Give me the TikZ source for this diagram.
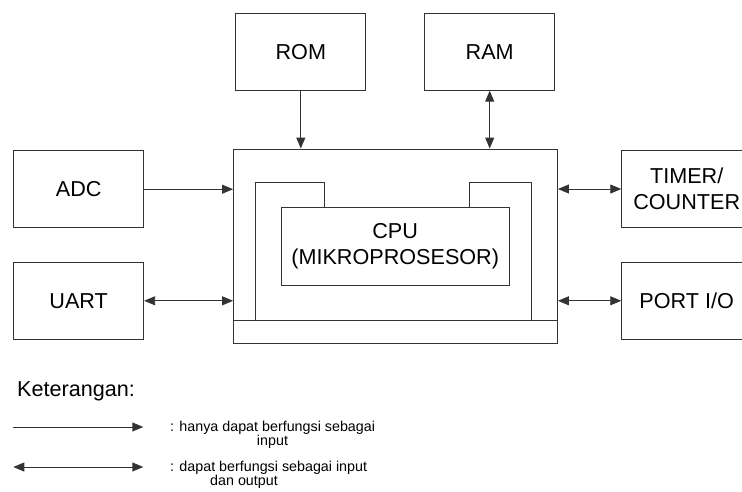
\documentclass[tikz,border=0pt]{standalone}
\usepackage{fontspec}
\setmainfont{Liberation Sans}
\usetikzlibrary{arrows.meta}
\begin{document}
\begin{tikzpicture}[x=1pt,y=-1pt,
  ln/.style={draw=black!80,line width=0.9pt},
  blk/.style={ln,rectangle,inner sep=0pt,minimum width=130pt,minimum height=77pt,
    align=center,font=\fontsize{21.6}{26}\selectfont},
  big/.style={font=\fontsize{21.6}{26}\selectfont},
  small/.style={font=\fontsize{14.3}{15}\selectfont,inner sep=0pt},
  one/.style={ln,-{Triangle[length=11pt,width=9pt]}},
  two/.style={ln,{Triangle[length=11pt,width=9pt]}-{Triangle[length=11pt,width=9pt]}}]
\useasboundingbox (0,0) rectangle (742,491);
\clip (0,0) rectangle (742,491);
% peripheral blocks
\node[blk] (rom) at (300.8,51.7) {ROM};
\node[blk] (ram) at (489.7,51.7) {RAM};
\node[blk] (adc) at (78.7,189.2) {ADC};
\node[blk] (uart) at (78.7,300.8) {UART};
\node[blk] (timer) at (686.7,189) {TIMER/\\COUNTER};
\node[blk] (port) at (686.7,300.8) {PORT I/O};
% microcontroller body
\node[ln,rectangle,inner sep=0pt,minimum width=324pt,minimum height=194pt] (mcu) at (395.5,246) {};
\node[ln,rectangle,inner sep=0pt,minimum width=324pt,minimum height=23pt] (bus) at (395.5,331.5) {};
\draw[ln] (255.7,320) -- (255.7,182.7) -- (324.3,182.7) -- (324.3,207.3);
\draw[ln] (469,207.3) -- (469,182.7) -- (531.3,182.7) -- (531.3,320);
\node[ln,rectangle,inner sep=0pt,minimum width=227.7pt,minimum height=77.7pt,align=center,big] (cpu) at (395.2,246.2) {CPU\\(MIKROPROSESOR)};
% connectors
\draw[one] (rom.south) -- (rom.south |- mcu.north);
\draw[two] (ram.south) -- (ram.south |- mcu.north);
\draw[one] (adc.east) -- (adc.east -| mcu.west);
\draw[two] (uart.east) -- (uart.east -| mcu.west);
\draw[two] (timer.west -| mcu.east) -- (timer.west);
\draw[two] (port.west -| mcu.east) -- (port.west);
% legend
\node[big,anchor=west,inner sep=0pt] (ket) at (17,391.7) {Keterangan:};
\coordinate (l1a) at (13.3,427);
\coordinate (l1b) at (143.3,427);
\coordinate (l2a) at (13.3,467);
\coordinate (l2b) at (143.3,467);
\draw[one] (l1a) -- (l1b);
\draw[two] (l2a) -- (l2b);
\node[small,anchor=west] (t1) at (170,427.5) {: hanya dapat berfungsi sebagai};
\node[small] (t1b) at (272.5,442) {input};
\node[small,anchor=west] (t2) at (170,467.5) {: dapat berfungsi sebagai input};
\node[small] (t2b) at (244,482) {dan output};
\end{tikzpicture}
\end{document}
